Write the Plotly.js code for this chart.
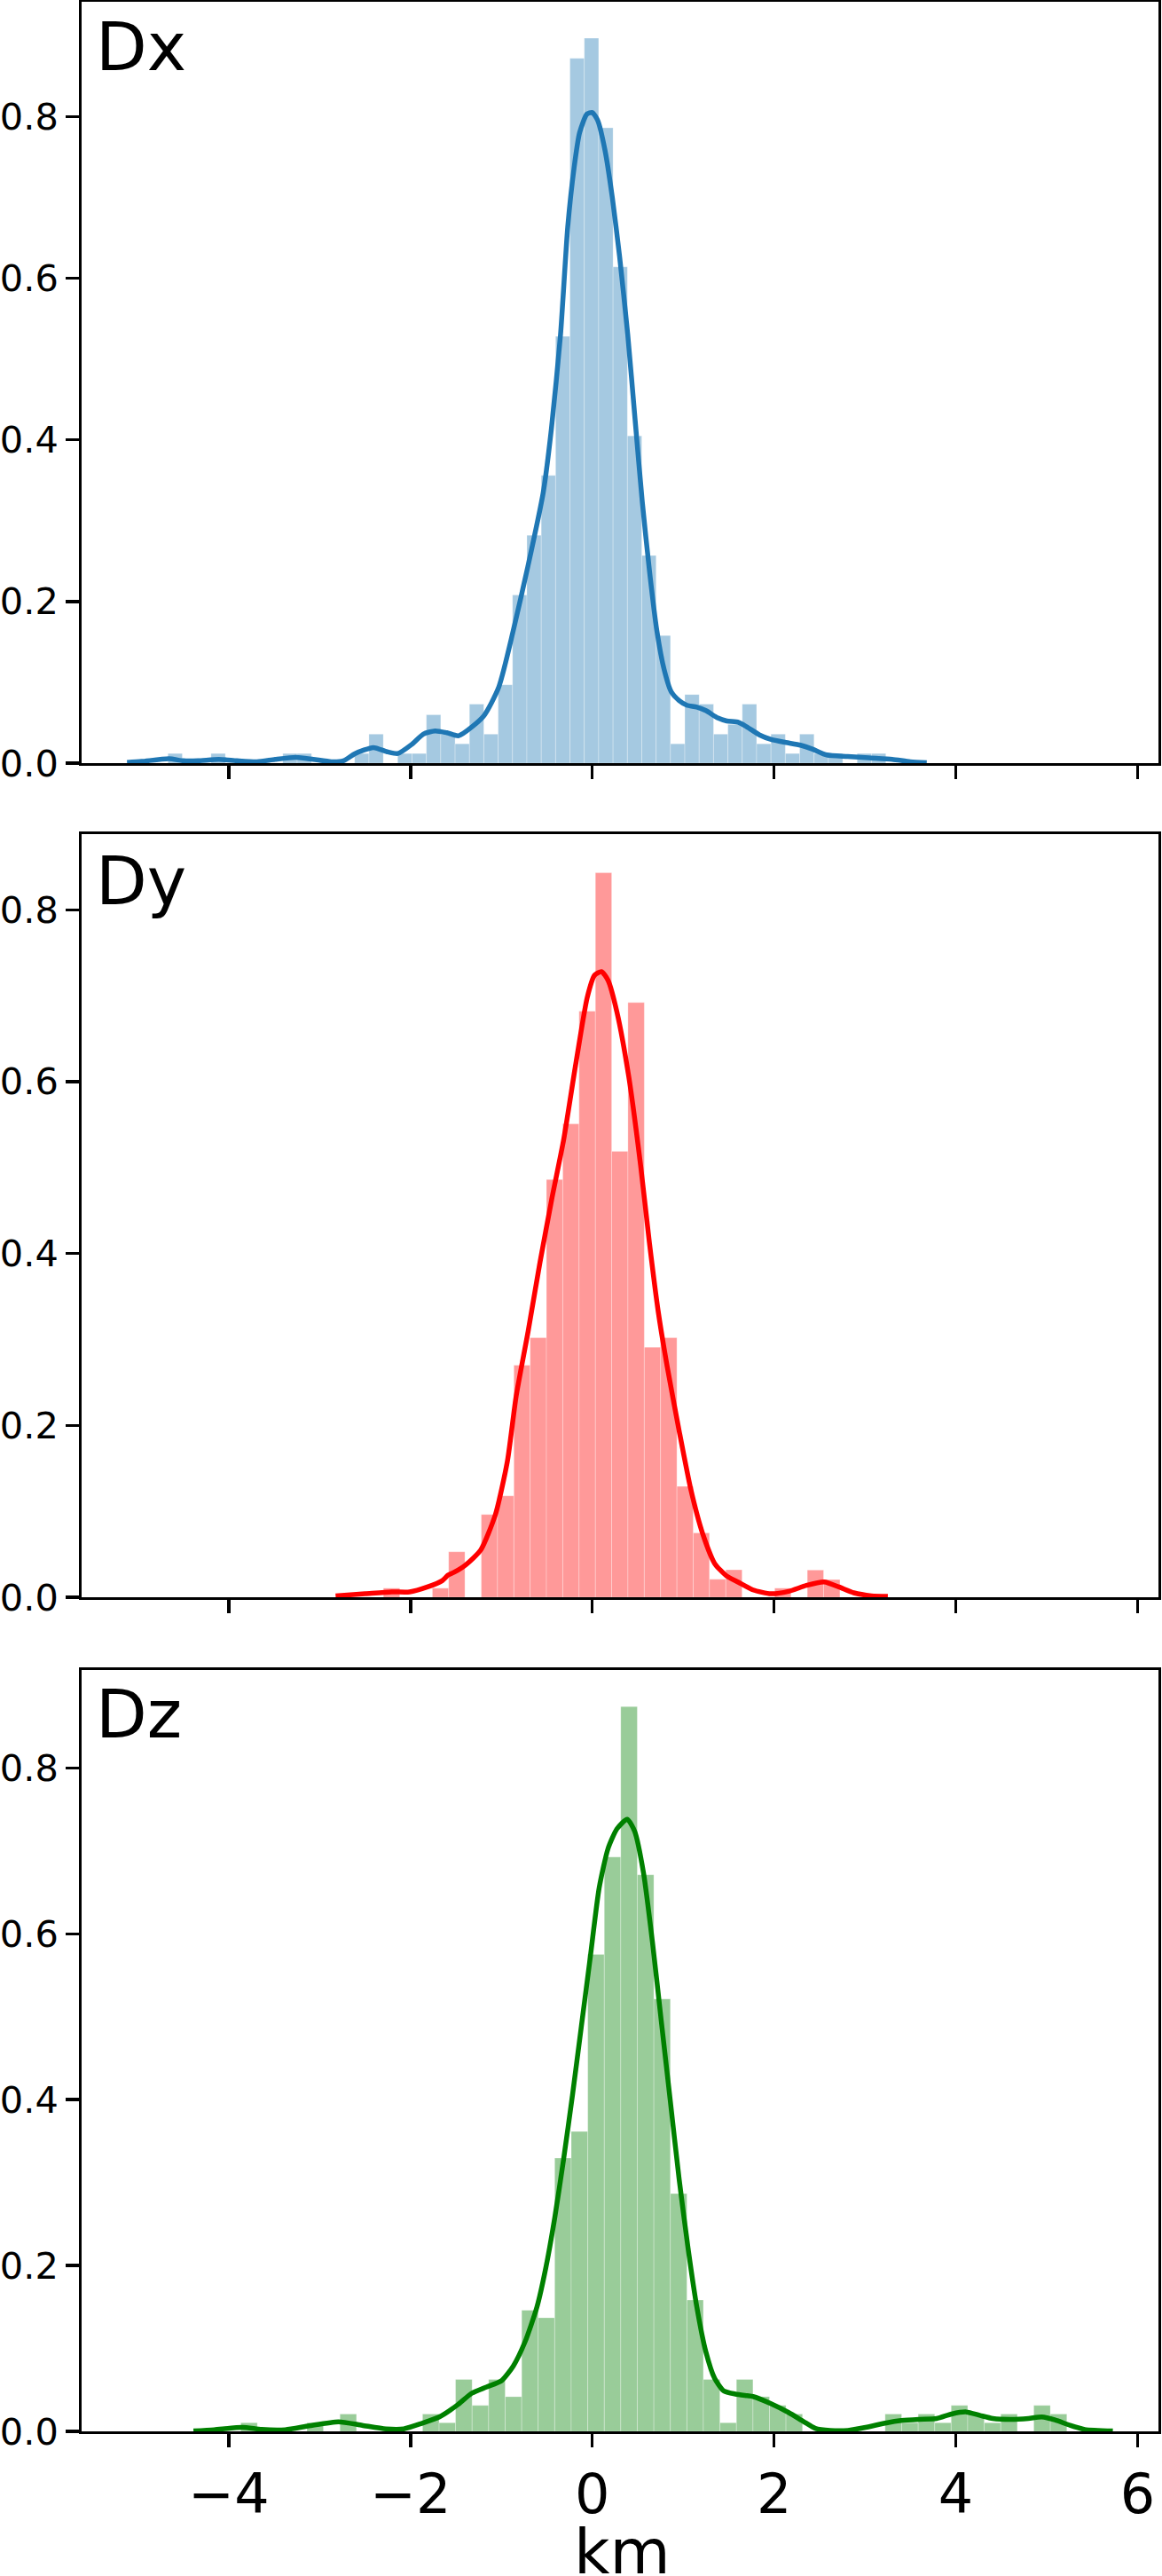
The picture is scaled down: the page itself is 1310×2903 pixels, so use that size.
<!DOCTYPE html>
<html>
<head>
<meta charset="utf-8">
<script src="https://cdn.plot.ly/plotly-3.0.1.min.js"></script>
<style>html,body{margin:0;padding:0;background:#fff;}#chart{width:1310px;height:2903px;}</style>
</head>
<body>
<div id="chart"></div>
<script>
// ---------- DATA ----------
const panelLabels = ["Dx", "Dy", "Dz"];
const xTickVals = [-4, -2, 0, 2, 4, 6];
const xTickText = ["\u22124", "\u22122", "0", "2", "4", "6"];
const yTickVals = [0, 0.2, 0.4, 0.6, 0.8];
const yTickText = ["0.0", "0.2", "0.4", "0.6", "0.8"];
const xAxisLabel = "km";

// Dx histogram (density) bin edges and heights
const dxEdges = [-4.670, -4.512, -4.354, -4.196, -4.038, -3.880, -3.722, -3.564, -3.406, -3.248,
  -3.090, -2.932, -2.774, -2.616, -2.458, -2.300, -2.142, -1.984, -1.826, -1.668,
  -1.510, -1.352, -1.194, -1.036, -0.878, -0.720, -0.562, -0.404, -0.246, -0.088,
  0.070, 0.228, 0.386, 0.544, 0.702, 0.860, 1.018, 1.176, 1.334, 1.492,
  1.650, 1.808, 1.966, 2.124, 2.282, 2.440, 2.598, 2.756, 2.914, 3.072, 3.230];
const dxHeights = [0.012, 0, 0, 0.012, 0, 0, 0, 0, 0.012, 0.012,
  0, 0, 0, 0.012, 0.036, 0, 0.012, 0.012, 0.060, 0.036,
  0.024, 0.073, 0.036, 0.097, 0.208, 0.282, 0.356, 0.528, 0.872, 0.897,
  0.786, 0.614, 0.405, 0.257, 0.158, 0.024, 0.085, 0.073, 0.036, 0.048,
  0.073, 0.024, 0.036, 0.012, 0.036, 0.012, 0.012, 0, 0.012, 0.012];
// Dx KDE curve
const dxKdeX = [-5.12, -4.96, -4.66, -4.50, -4.34, -4.11, -3.91, -3.69, -3.49, -3.26, -3.07, -2.87, -2.74, -2.61,
  -2.41, -2.25, -2.14, -1.99, -1.86, -1.73, -1.60, -1.47, -1.20, -1.03, -0.87, -0.71, -0.54, -0.45,
  -0.35, -0.27, -0.20, -0.14, -0.06, 0.0, 0.06, 0.14, 0.22, 0.30, 0.39, 0.47, 0.55, 0.63, 0.71,
  0.79, 0.87, 0.96, 1.04, 1.15, 1.25, 1.38, 1.48, 1.61, 1.70, 1.84, 1.97, 2.13, 2.29, 2.42,
  2.58, 2.81, 3.04, 3.30, 3.50, 3.68];
const dxKdeY = [0.001, 0.0022, 0.0055, 0.003, 0.003, 0.0048, 0.003, 0.0018, 0.0048, 0.0073, 0.0048, 0.0018, 0.003, 0.012,
  0.0194, 0.0139, 0.012, 0.023, 0.036, 0.040, 0.0377, 0.034, 0.0577, 0.094, 0.164, 0.243, 0.335, 0.414,
  0.530, 0.664, 0.737, 0.780, 0.803, 0.805, 0.795, 0.758, 0.700, 0.627, 0.530, 0.426, 0.323, 0.237, 0.164,
  0.116, 0.088, 0.077, 0.0717, 0.0695, 0.0651, 0.056, 0.0523, 0.0505, 0.045, 0.035, 0.0293, 0.0256, 0.0223, 0.0176,
  0.0102, 0.0084, 0.0066, 0.0048, 0.0018, 0.0007];

// Dy histogram
const dyEdges = [-2.299, -2.119, -1.940, -1.760, -1.581, -1.402, -1.222, -1.043, -0.863, -0.684,
  -0.505, -0.325, -0.146, 0.034, 0.213, 0.392, 0.572, 0.751, 0.931, 1.110,
  1.289, 1.469, 1.648, 1.828, 2.007, 2.186, 2.366, 2.545, 2.725];
const dyHeights = [0.0106, 0, 0, 0.0106, 0.053, 0, 0.0963, 0.118, 0.270, 0.302,
  0.486, 0.551, 0.682, 0.843, 0.519, 0.692, 0.291, 0.302, 0.129, 0.0748,
  0.021, 0.032, 0, 0, 0.0106, 0, 0.0317, 0.0206];
const dyKdeX = [-2.825, -2.499, -2.206, -2.011, -1.815, -1.652, -1.587, -1.522, -1.391, -1.228, -1.066, -0.935,
  -0.838, -0.707, -0.577, -0.447, -0.316, -0.186, -0.056, 0.026, 0.101, 0.173, 0.271, 0.401, 0.531,
  0.629, 0.726, 0.824, 0.955, 1.085, 1.215, 1.346, 1.476, 1.606, 1.769, 1.965, 2.160, 2.356, 2.551,
  2.714, 2.877, 3.073, 3.252];
const dyKdeY = [0.0017, 0.0041, 0.0062, 0.0062, 0.012, 0.0193, 0.0258, 0.029, 0.0379, 0.055, 0.0963, 0.158,
  0.234, 0.309, 0.389, 0.463, 0.532, 0.618, 0.698, 0.724, 0.728, 0.718, 0.681, 0.606, 0.503,
  0.412, 0.332, 0.2685, 0.194, 0.125, 0.0737, 0.0394, 0.025, 0.0176, 0.0086, 0.0041, 0.0069, 0.0138, 0.0179,
  0.012, 0.0052, 0.0017, 0.001];

// Dz histogram
const dzEdges = [-3.868, -3.686, -3.504, -3.323, -3.141, -2.959, -2.777, -2.595, -2.414, -2.232,
  -2.050, -1.868, -1.686, -1.505, -1.323, -1.141, -0.959, -0.777, -0.596, -0.414,
  -0.232, -0.050, 0.132, 0.313, 0.495, 0.677, 0.859, 1.041, 1.222, 1.404,
  1.586, 1.768, 1.950, 2.131, 2.313, 2.495, 2.677, 2.859, 3.040, 3.222,
  3.404, 3.586, 3.768, 3.949, 4.131, 4.313, 4.495, 4.677, 4.858, 5.040, 5.222];
const dzHeights = [0.0104, 0, 0, 0, 0.0104, 0, 0.0209, 0, 0, 0,
  0, 0.0209, 0.0104, 0.0626, 0.0313, 0.0626, 0.0418, 0.146, 0.137, 0.3295,
  0.3615, 0.575, 0.6925, 0.8738, 0.671, 0.5214, 0.2866, 0.1584, 0.0626, 0.0104,
  0.0626, 0.0418, 0.0313, 0.0209, 0, 0, 0, 0, 0, 0.0209,
  0.0104, 0.0209, 0.0104, 0.0313, 0.0209, 0.0104, 0.0209, 0, 0.0313, 0.0209];
const dzKdeX = [-4.389, -4.161, -3.851, -3.639, -3.379, -3.118, -2.793, -2.532, -2.271, -2.075, -1.880, -1.684,
  -1.489, -1.326, -1.163, -1.0, -0.870, -0.740, -0.609, -0.511, -0.414, -0.316, -0.218, -0.120, -0.022,
  0.075, 0.173, 0.271, 0.384, 0.466, 0.564, 0.662, 0.759, 0.857, 0.955, 1.053, 1.150, 1.248, 1.346,
  1.444, 1.574, 1.704, 1.769, 1.965, 2.160, 2.323, 2.454, 2.617, 2.812, 3.008, 3.236, 3.399, 3.594,
  3.790, 3.953, 4.116, 4.269, 4.408, 4.604, 4.799, 4.946, 5.093, 5.256, 5.419, 5.728];
const dzKdeY = [0.0005, 0.002, 0.0048, 0.0023, 0.002, 0.0066, 0.0116, 0.0073, 0.003, 0.003, 0.0095, 0.0173,
  0.0314, 0.046, 0.0535, 0.061, 0.0787, 0.108, 0.150, 0.1975, 0.257, 0.328, 0.4055, 0.4887, 0.572,
  0.655, 0.7026, 0.7264, 0.738, 0.7234, 0.673, 0.5897, 0.4946, 0.3996, 0.3045, 0.2213, 0.150, 0.0965, 0.0638,
  0.049, 0.045, 0.043, 0.042, 0.0334, 0.0227, 0.012, 0.0037, 0.0012, 0.0012, 0.0048, 0.0102, 0.013, 0.0145,
  0.0155, 0.0209, 0.0234, 0.0191, 0.0155, 0.0145, 0.0155, 0.0173, 0.0137, 0.0073, 0.0023, 0.0005];

// ---------- STYLE ----------
const FONT = "DejaVu Sans, Liberation Sans, Arial, sans-serif";
const panels = [
  {edges: dxEdges, h: dxHeights, kx: dxKdeX, ky: dxKdeY, bar: "rgb(165,201,225)", line: "#1f77b4", ymax: 0.942, dom: [0.6866, 1.0], labelY: 0.9814},
  {edges: dyEdges, h: dyHeights, kx: dyKdeX, ky: dyKdeY, bar: "rgb(255,153,153)", line: "#ff0000", ymax: 0.888, dom: [0.3433, 0.6574], labelY: 0.638},
  {edges: dzEdges, h: dzHeights, kx: dzKdeX, ky: dzKdeY, bar: "rgb(153,204,153)", line: "#008000", ymax: 0.918, dom: [0.0, 0.3134], labelY: 0.2951}
];

const traces = [];
const layout = {
  width: 1310, height: 2903,
  margin: {l: 92, r: 4, t: 2, b: 163, pad: 0},
  paper_bgcolor: "#ffffff", plot_bgcolor: "#ffffff",
  showlegend: false, bargap: 0, barmode: "overlay",
  font: {family: FONT, color: "#000000"},
  annotations: []
};

const LW = 3.3, TL = 14.6;
panels.forEach((p, i) => {
  const n = i === 0 ? "" : String(i + 1);
  const centers = p.h.map((_, k) => (p.edges[k] + p.edges[k + 1]) / 2);
  const widths = p.h.map((_, k) => p.edges[k + 1] - p.edges[k]);
  traces.push({
    type: "bar", x: centers, y: p.h, width: widths,
    xaxis: "x" + n, yaxis: "y" + n,
    marker: {color: p.bar, line: {color: "rgba(255,255,255,0.35)", width: 0.8}},
    hoverinfo: "skip"
  });
  traces.push({
    type: "scatter", mode: "lines", x: p.kx, y: p.ky,
    xaxis: "x" + n, yaxis: "y" + n,
    line: {color: p.line, width: 5.5, shape: "spline", smoothing: 0.6},
    hoverinfo: "skip"
  });
  const last = i === 2;
  layout["xaxis" + n] = {
    domain: [0, 1], anchor: "y" + n, range: [-5.62, 6.23],
    tickmode: "array", tickvals: xTickVals, ticktext: xTickText,
    showticklabels: last, ticks: "outside", ticklen: TL, tickwidth: LW, tickcolor: "#000",
    tickfont: {family: FONT, size: 62, color: "#000"},
    showline: true, linecolor: "#000", linewidth: LW, mirror: true,
    showgrid: false, zeroline: false, fixedrange: true
  };
  layout["yaxis" + n] = {
    domain: p.dom, anchor: "x" + n, range: [0, p.ymax],
    tickmode: "array", tickvals: yTickVals, ticktext: yTickText,
    ticks: "outside", ticklen: TL, tickwidth: LW, tickcolor: "#000",
    tickfont: {family: FONT, size: 41.5, color: "#000"},
    showline: true, linecolor: "#000", linewidth: LW, mirror: true,
    showgrid: false, zeroline: false, fixedrange: true
  };
  layout.annotations.push({
    text: panelLabels[i], xref: "paper", yref: "paper",
    x: 0.0115, y: p.labelY, xanchor: "left", yanchor: "middle",
    showarrow: false, font: {family: FONT, size: 75, color: "#000"}
  });
});

// x-axis title ("km") placed as an annotation below the bottom panel, cut by the page edge like the original
layout.annotations.push({
  text: xAxisLabel, xref: "paper", yref: "paper",
  x: 0.5022, y: -0.034, xanchor: "center", yanchor: "top",
  showarrow: false, font: {family: FONT, size: 70, color: "#000"}
});

Plotly.newPlot("chart", traces, layout, {staticPlot: true, displayModeBar: false});
</script>
</body>
</html>
